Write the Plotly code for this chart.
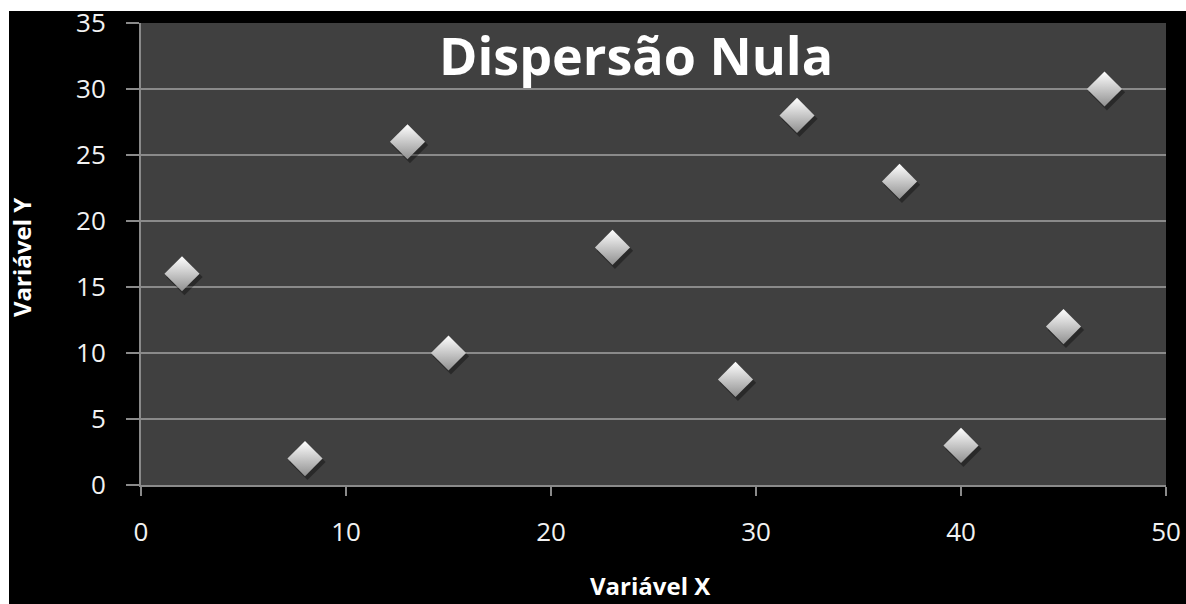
import plotly.graph_objects as go

# Pares (X, Y) do diagrama de dispersão
variavel_x = [2, 8, 13, 15, 23, 29, 32, 37, 40, 45, 47]
variavel_y = [16, 2, 26, 10, 18, 8, 28, 23, 3, 12, 30]

titulo = "Dispersão Nula"
rotulo_x = "Variável X"
rotulo_y = "Variável Y"

W, H = 1186, 604
M_L, M_R, M_T, M_B = 141, 20, 23, 119
PW, PH = W - M_L - M_R, H - M_T - M_B


def px_x(p):
    return (p - M_L) / PW


def px_y(p):
    return 1 + (M_T - p) / PH


fig = go.Figure()

# sombra dos marcadores
fig.add_trace(go.Scatter(
    x=[v + 0.12 for v in variavel_x],
    y=[v - 0.25 for v in variavel_y],
    mode="markers",
    marker=dict(symbol="diamond", size=28, color="rgba(0,0,0,0.35)", line=dict(width=0)),
    hoverinfo="skip", showlegend=False,
))

fig.add_trace(go.Scatter(
    x=variavel_x, y=variavel_y,
    mode="markers",
    marker=dict(symbol="diamond", size=27, color="#ffffff",
                gradient=dict(type="vertical", color="#909090"),
                line=dict(width=0)),
    showlegend=False,
))

axis_common = dict(
    showline=True, linecolor="#8a8a8a", linewidth=2,
    ticks="outside", tickcolor="#8a8a8a", tickwidth=2,
    tickfont=dict(family="Open Sans", size=26, color="#f2f2f2"),
    zeroline=False, automargin=False,
)

fig.update_xaxes(range=[0, 50], dtick=10, showgrid=False, ticklen=9,
                 ticklabelstandoff=14, **axis_common)
fig.update_yaxes(range=[0, 35], dtick=5, showgrid=True, gridcolor="#8a8a8a",
                 gridwidth=2, ticklen=13, ticklabelstandoff=15, **axis_common)

# faixas brancas ao topo e à esquerda
fig.add_shape(type="rect", xref="paper", yref="paper",
              x0=px_x(0), x1=px_x(W), y0=px_y(11), y1=px_y(0),
              fillcolor="white", line=dict(width=0), layer="above")
fig.add_shape(type="rect", xref="paper", yref="paper",
              x0=px_x(0), x1=px_x(9), y0=px_y(H), y1=px_y(0),
              fillcolor="white", line=dict(width=0), layer="above")

fig.add_annotation(text=f"<b>{titulo}</b>", xref="paper", yref="paper",
                   x=px_x(636), y=px_y(55), xanchor="center", yanchor="middle",
                   showarrow=False, font=dict(family="Open Sans", size=52, color="white"))
fig.add_annotation(text=f"<b>{rotulo_x}</b>", xref="paper", yref="paper",
                   x=px_x(650), y=px_y(585), xanchor="center", yanchor="middle",
                   showarrow=False, font=dict(family="Open Sans", size=24, color="white"))
fig.add_annotation(text=f"<b>{rotulo_y}</b>", xref="paper", yref="paper",
                   x=px_x(21), y=px_y(258), xanchor="center", yanchor="middle",
                   textangle=-90, showarrow=False,
                   font=dict(family="Open Sans", size=24, color="white"))

fig.update_layout(
    width=W, height=H,
    margin=dict(l=M_L, r=M_R, t=M_T, b=M_B),
    paper_bgcolor="black", plot_bgcolor="#404040",
    showlegend=False,
)

fig.write_html(
    "out.html",
    post_script="document.body.style.margin='0';"
                "document.documentElement.style.overflow='hidden';",
)
